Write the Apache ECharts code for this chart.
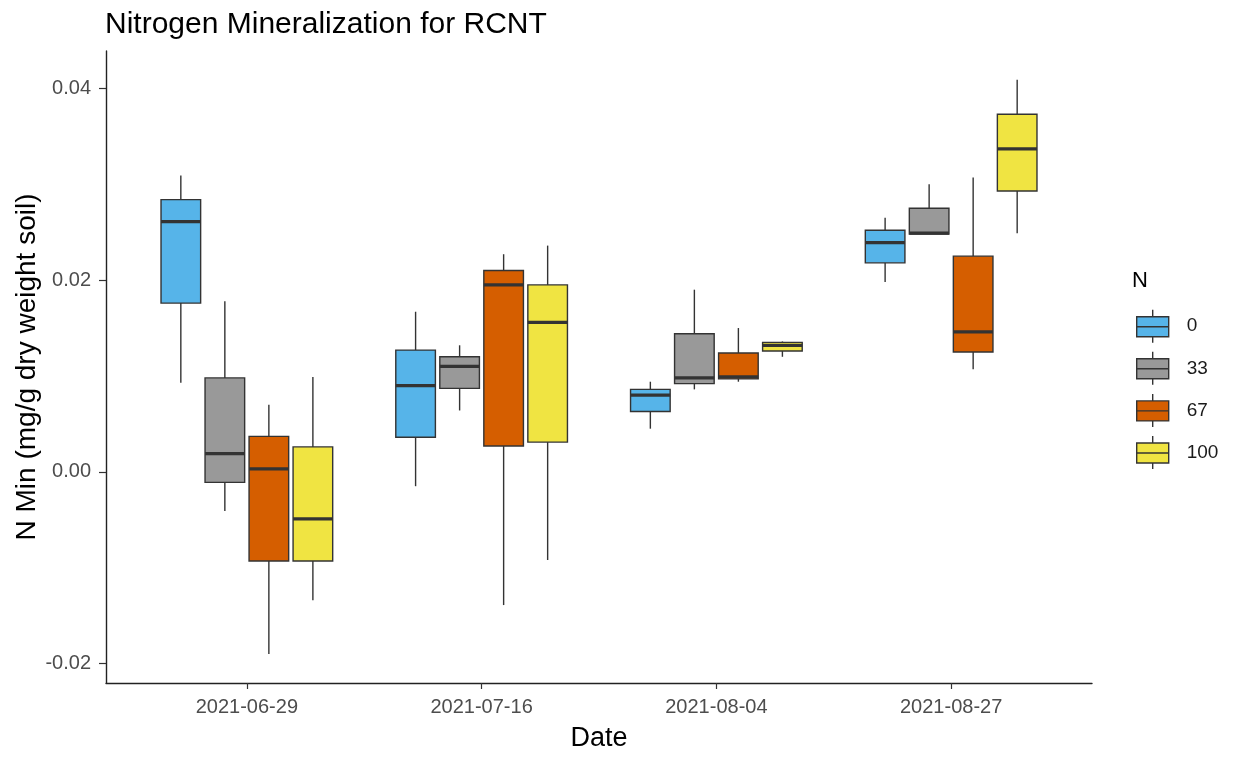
<!DOCTYPE html>
<html><head><meta charset="utf-8">
<script src="https://cdn.jsdelivr.net/npm/echarts@6/dist/echarts.min.js"></script>
<style>html,body{margin:0;padding:0;background:#fff}#c{width:1239px;height:757px}</style>
</head><body><div id="c"></div>
<script>
const dates = ['2021-06-29','2021-07-16','2021-08-04','2021-08-27'];
const levels = ['0','33','67','100'];
const colors = ['#56B4E9','#999999','#D55E00','#F0E442'];
const yTicks = [-0.02, 0, 0.02, 0.04];
const xTicks = [1, 2, 3, 4];
// each row (one per date): [whiskerLow, Q1, median, Q3, whiskerHigh]
const n0 = [[0.0093,0.0176,0.0261,0.0284,0.0309],[-0.0015,0.0036,0.0090,0.0127,0.0167],[0.0045,0.0063,0.0080,0.0086,0.0094],[0.0198,0.0218,0.0239,0.0252,0.0265]];
const n33 = [[-0.0041,-0.0011,0.0019,0.0098,0.0178],[0.0064,0.0087,0.0110,0.0120,0.0132],[0.0086,0.0092,0.0098,0.0144,0.0190],[0.0248,0.0248,0.0249,0.0275,0.0300]];
const n67 = [[-0.0190,-0.0093,0.0003,0.0037,0.0070],[-0.0139,0.0027,0.0195,0.0210,0.0227],[0.0094,0.0097,0.0099,0.0124,0.0150],[0.0107,0.0125,0.0146,0.0225,0.0307]];
const n100 = [[-0.0134,-0.0093,-0.0049,0.0026,0.0099],[-0.0092,0.0031,0.0156,0.0195,0.0236],[0.0120,0.0126,0.0132,0.0135,0.0136],[0.0249,0.0293,0.0337,0.0373,0.0409]];
const groups = [n0, n33, n67, n100];

const FONT = 'Liberation Sans, Arial, sans-serif';
const LINE = '#333333';

function makeRender(k, color) {
  return function (params, api) {
    const x = api.value(0);
    const unit = api.size([1, 0])[0];
    const slot = 0.75 / 4 * unit;
    const bw = slot * 0.9;
    const cx = api.coord([x, 0])[0] + (k - 1.5) * slot;
    const yl = api.coord([x, api.value(1)])[1];
    const y1 = api.coord([x, api.value(2)])[1];
    const ym = api.coord([x, api.value(3)])[1];
    const y3 = api.coord([x, api.value(4)])[1];
    const yh = api.coord([x, api.value(5)])[1];
    return {
      type: 'group',
      children: [
        {type: 'line', shape: {x1: cx, y1: yh, x2: cx, y2: y3}, style: {stroke: LINE, lineWidth: 1.4}},
        {type: 'line', shape: {x1: cx, y1: y1, x2: cx, y2: yl}, style: {stroke: LINE, lineWidth: 1.4}},
        {type: 'rect', shape: {x: cx - bw / 2, y: y3, width: bw, height: y1 - y3}, style: {fill: color, stroke: LINE, lineWidth: 1.4}},
        {type: 'line', shape: {x1: cx - bw / 2, y1: ym, x2: cx + bw / 2, y2: ym}, style: {stroke: LINE, lineWidth: 3.2}}
      ]
    };
  };
}

const series = groups.map((g, k) => ({
  type: 'custom',
  name: levels[k],
  itemStyle: {color: colors[k]},
  renderItem: makeRender(k, colors[k]),
  encode: {x: 0, y: [1, 2, 3, 4, 5]},
  data: g.map((r, i) => [xTicks[i]].concat(r))
}));

const chart = echarts.init(document.getElementById('c'), null, {renderer: 'canvas'});
chart.setOption({
  animation: false,
  backgroundColor: '#ffffff',
  title: [
    {text: 'Nitrogen Mineralization for RCNT', left: 105, top: 10, padding: 0,
     textStyle: {fontFamily: FONT, fontSize: 30, fontWeight: 'normal', color: '#000'}},
    {text: 'N', left: 1132, top: 270, padding: 0,
     textStyle: {fontFamily: FONT, fontSize: 22, fontWeight: 'normal', color: '#000'}}
  ],
  legend: {
    orient: 'vertical', left: 1136, top: 309, padding: 0,
    itemWidth: 32, itemHeight: 33, itemGap: 7.7,
    icon: 'path://M16,0L16,7M0,7L32,7L32,27L0,27ZM0,17L32,17M16,27L16,33',
    itemStyle: {borderColor: LINE, borderWidth: 1.4},
    textStyle: {fontFamily: FONT, fontSize: 19, color: '#1a1a1a', padding: [0, 0, 0, 13]},
    data: levels,
    selectedMode: false
  },
  grid: {left: 106, right: 147, top: 51, bottom: 74, outerBoundsMode: 'none', containLabel: false},
  xAxis: {
    type: 'value', min: 0.4, max: 4.6,
    name: 'Date', nameLocation: 'middle', nameGap: 42, nameMoveOverlap: false,
    nameTextStyle: {fontFamily: FONT, fontSize: 27, color: '#000'},
    axisLine: {show: true, onZero: false, lineStyle: {color: '#222', width: 1.4}},
    axisTick: {show: true, customValues: xTicks, length: 6, lineStyle: {color: LINE, width: 1.2}},
    axisLabel: {customValues: xTicks, formatter: v => dates[Math.round(v) - 1], margin: 14,
                fontFamily: FONT, fontSize: 20, color: '#4d4d4d'},
    splitLine: {show: false}
  },
  yAxis: {
    type: 'value', min: -0.02203, max: 0.0439,
    name: 'N Min (mg/g dry weight soil)', nameLocation: 'middle', nameGap: 65, nameRotate: 90,
    nameMoveOverlap: false,
    nameTextStyle: {fontFamily: FONT, fontSize: 28, color: '#000'},
    axisLine: {show: true, onZero: false, lineStyle: {color: '#222', width: 1.4}},
    axisTick: {show: true, customValues: yTicks, length: 7, lineStyle: {color: LINE, width: 1.2}},
    axisLabel: {customValues: yTicks, formatter: v => v.toFixed(2), margin: 15,
                fontFamily: FONT, fontSize: 20, color: '#4d4d4d'},
    splitLine: {show: false}
  },
  series: series
});
</script></body></html>
